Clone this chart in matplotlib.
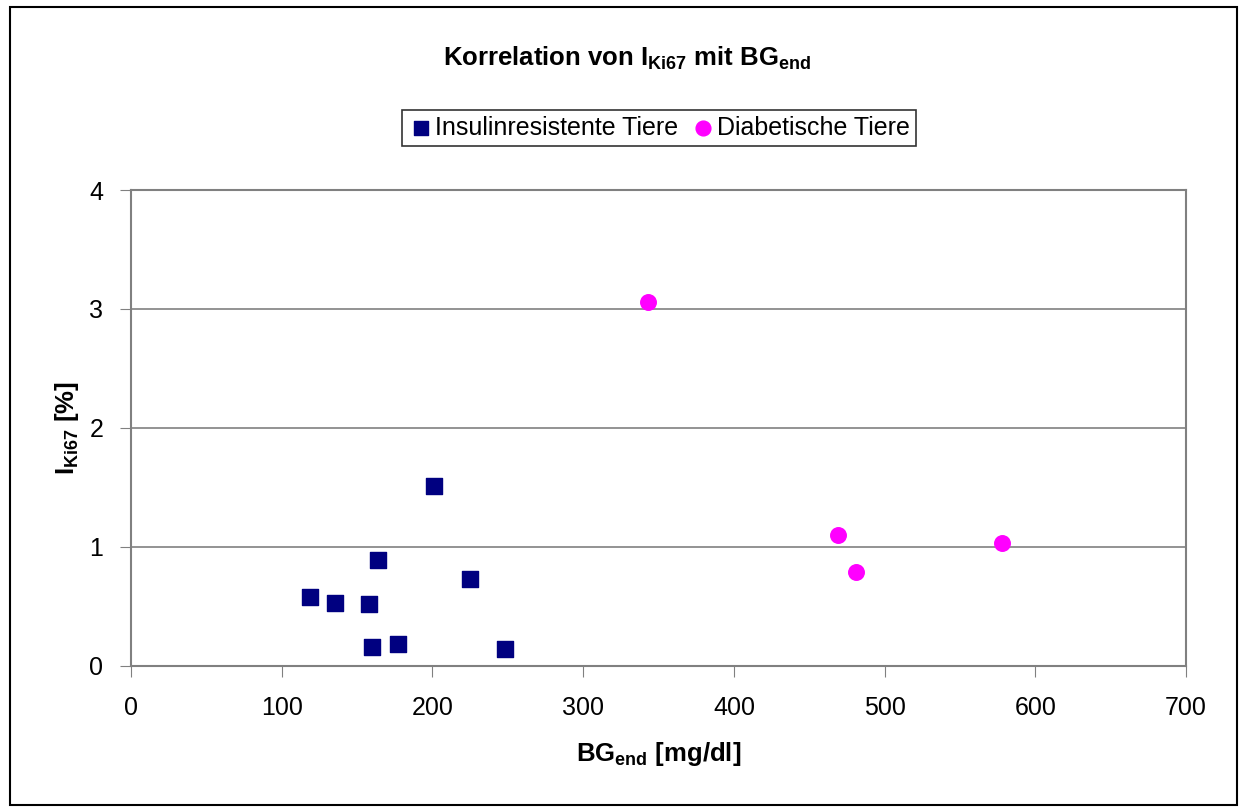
import matplotlib.pyplot as plt
from matplotlib.patches import Rectangle

plt.rcParams['font.family'] = ['Liberation Sans', 'DejaVu Sans']
plt.rcParams['mathtext.fontset'] = 'custom'
plt.rcParams['mathtext.rm'] = 'Liberation Sans'
plt.rcParams['mathtext.bf'] = 'Liberation Sans:bold'

# Insulinresistente Tiere
bg_ir = [119, 135, 158, 160, 164, 177, 201, 225, 248]
ki67_ir = [0.58, 0.53, 0.52, 0.16, 0.89, 0.18, 1.51, 0.73, 0.14]

# Diabetische Tiere
bg_db = [343, 469, 481, 578]
ki67_db = [3.06, 1.10, 0.79, 1.03]

fig = plt.figure(figsize=(12.41, 8.10), dpi=100)
ax = fig.add_axes([0.1056, 0.1779, 0.8501, 0.5875])

ax.scatter(bg_ir, ki67_ir, marker='s', s=125, color='#000080', label='Insulinresistente Tiere', zorder=3)
ax.scatter(bg_db, ki67_db, marker='o', s=125, color='#ff00ff', label='Diabetische Tiere', zorder=3)

ax.set_xlim(0, 700)
ax.set_ylim(0, 4)
ax.set_xticks(range(0, 701, 100))
ax.set_yticks(range(0, 5))
ax.tick_params(labelsize=18, direction='out', length=8, color='#808080')
ax.tick_params(axis='x', pad=14)
ax.tick_params(axis='y', pad=12)
ax.grid(axis='y', color='#808080', linewidth=1.2)
ax.set_axisbelow(True)
for sp in ax.spines.values():
    sp.set_color('#808080')
    sp.set_linewidth(1.5)

ax.set_xlabel(r'BG$_{\mathbf{end}}$ [mg/dl]', fontsize=18.5, fontweight='bold', labelpad=14)
ax.set_ylabel(r'I$_{\mathbf{Ki67}}$ [%]', fontsize=18.5, fontweight='bold', labelpad=6)

fig.text(0.505, 0.928, r'Korrelation von I$_{\mathbf{Ki67}}$ mit BG$_{\mathbf{end}}$',
         fontsize=18.5, fontweight='bold', ha='center', va='center')

leg = fig.legend(loc='center', bbox_to_anchor=(0.531, 0.842), ncol=2, fontsize=18,
                 frameon=True, fancybox=False, edgecolor='black', handletextpad=0.05,
                 columnspacing=0.5, borderpad=0.25, handlelength=1.0, markerscale=0.95)
leg.get_frame().set_linewidth(1.2)

fig.patches.append(Rectangle((0.008, 0.006), 0.989, 0.985, transform=fig.transFigure,
                             fill=False, edgecolor='black', linewidth=1.5))

plt.savefig('out.png', dpi=100)
